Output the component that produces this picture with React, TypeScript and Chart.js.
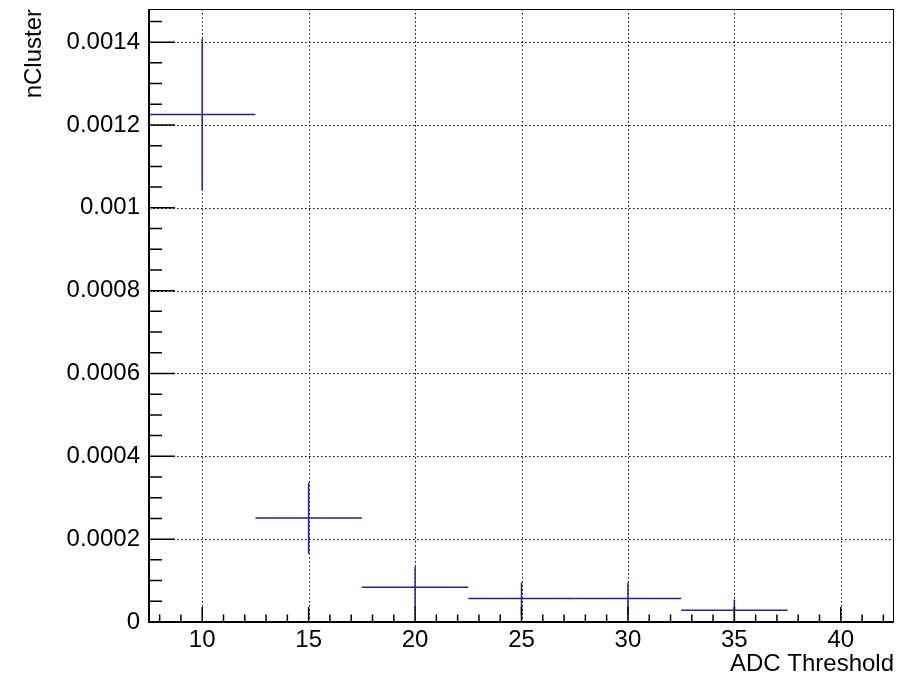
import React, { useEffect, useRef } from "react";
import { Chart, registerables } from "chart.js";

Chart.register(...registerables);

// ---- data ----
const adcThresholds = [10, 15, 20, 25, 30, 35];
const nClusterValues = [0.001225, 0.000251, 0.000084, 0.0000565, 0.0000565, 0.0000285];
const nClusterErrors = [0.000183, 0.000086, 0.00005, 0.000039, 0.000039, 0.000026];
const thresholdHalfWidths = [2.5, 2.5, 2.5, 2.5, 2.5, 2.5];

const xTickValues = [10, 15, 20, 25, 30, 35, 40];
const xTickLabels = ["10", "15", "20", "25", "30", "35", "40"];
const yTickValues = [0, 0.0002, 0.0004, 0.0006, 0.0008, 0.001, 0.0012, 0.0014];
const yTickLabels = ["0", "0.0002", "0.0004", "0.0006", "0.0008", "0.001", "0.0012", "0.0014"];

const X_MIN = 7.5;
const X_MAX = 42.5;
const Y_MIN = 0;
const Y_MAX = 0.00148;
const X_MINOR_STEP = 1;
const Y_MINOR_STEP = 0.00005;

const FONT_FAMILY = "'Liberation Sans', Arial, Helvetica, sans-serif";
const MARKER_COLOR = "rgb(34,34,150)";

const rootStylePlugin = {
  id: "rootStyle",
  beforeDatasetsDraw(chart: any) {
    const { ctx, chartArea: a, scales } = chart;
    const x = scales.x;
    const y = scales.y;
    ctx.save();
    ctx.strokeStyle = "#000";
    ctx.lineWidth = 1;
    ctx.setLineDash([1.5, 2.5]);
    for (const v of xTickValues) {
      const px = Math.round(x.getPixelForValue(v)) + 0.5;
      ctx.beginPath();
      ctx.moveTo(px, a.top);
      ctx.lineTo(px, a.bottom);
      ctx.stroke();
    }
    for (const v of yTickValues) {
      if (v === Y_MIN) continue;
      const py = Math.round(y.getPixelForValue(v)) + 0.5;
      ctx.beginPath();
      ctx.moveTo(a.left, py);
      ctx.lineTo(a.right, py);
      ctx.stroke();
    }
    ctx.restore();
  },
  afterDatasetsDraw(chart: any) {
    const { ctx, chartArea: a, scales } = chart;
    const x = scales.x;
    const y = scales.y;
    ctx.save();
    ctx.beginPath();
    ctx.rect(a.left, a.top, a.right - a.left, a.bottom - a.top);
    ctx.clip();
    ctx.strokeStyle = MARKER_COLOR;
    ctx.lineWidth = 1.5;
    adcThresholds.forEach((xv, i) => {
      const yv = nClusterValues[i];
      const px = x.getPixelForValue(xv);
      const py = y.getPixelForValue(yv);
      const x0 = x.getPixelForValue(xv - thresholdHalfWidths[i]);
      const x1 = x.getPixelForValue(xv + thresholdHalfWidths[i]);
      const y0 = y.getPixelForValue(yv - nClusterErrors[i]);
      const y1 = y.getPixelForValue(yv + nClusterErrors[i]);
      ctx.beginPath();
      ctx.moveTo(x0, py);
      ctx.lineTo(x1, py);
      ctx.moveTo(px, y0);
      ctx.lineTo(px, y1);
      ctx.stroke();
    });
    ctx.restore();
  },
  afterDraw(chart: any) {
    const { ctx, chartArea: a, scales } = chart;
    const x = scales.x;
    const y = scales.y;
    ctx.save();
    ctx.strokeStyle = "#000";
    ctx.setLineDash([]);
    // frame
    ctx.lineWidth = 1;
    ctx.strokeRect(a.left + 0.5, a.top + 0.5, a.right - a.left - 1, a.bottom - a.top - 1);
    ctx.lineWidth = 2;
    ctx.beginPath();
    ctx.moveTo(a.left, a.top);
    ctx.lineTo(a.left, a.bottom);
    ctx.lineTo(a.right, a.bottom);
    ctx.stroke();
    // x ticks (inward)
    ctx.lineWidth = 1.5;
    ctx.beginPath();
    for (let v = Math.ceil(X_MIN); v <= X_MAX; v += X_MINOR_STEP) {
      const major = xTickValues.includes(v);
      const px = x.getPixelForValue(v);
      ctx.moveTo(px, a.bottom);
      ctx.lineTo(px, a.bottom - (major ? 15 : 7.5));
    }
    // y ticks (inward)
    const nMinor = Math.floor((Y_MAX - Y_MIN) / Y_MINOR_STEP + 1e-9);
    for (let k = 1; k <= nMinor; k++) {
      const v = Y_MIN + k * Y_MINOR_STEP;
      const major = k % 4 === 0;
      const py = y.getPixelForValue(v);
      ctx.moveTo(a.left, py);
      ctx.lineTo(a.left + (major ? 26 : 13), py);
    }
    ctx.stroke();
    ctx.restore();
  },
};

export default function App() {
  const canvasRef = useRef<HTMLCanvasElement | null>(null);

  useEffect(() => {
    const canvas = canvasRef.current;
    if (!canvas) return;
    const chart = new Chart(canvas, {
      type: "scatter",
      data: {
        datasets: [
          {
            label: "nCluster",
            data: adcThresholds.map((t, i) => ({ x: t, y: nClusterValues[i] })),
            pointRadius: 0,
            pointHoverRadius: 0,
            showLine: false,
            borderColor: MARKER_COLOR,
            backgroundColor: MARKER_COLOR,
          },
        ],
      },
      options: {
        responsive: false,
        animation: false,
        events: [],
        layout: { padding: { left: 0, top: 9, right: 3, bottom: 0 } },
        plugins: {
          legend: { display: false },
          tooltip: { enabled: false },
          title: { display: false },
        },
        scales: {
          x: {
            type: "linear",
            min: X_MIN,
            max: X_MAX,
            afterBuildTicks: (scale: any) => {
              scale.ticks = xTickValues.map((v) => ({ value: v }));
            },
            afterFit: (scale: any) => {
              scale.height = 57;
              scale.paddingLeft = 0;
              scale.paddingRight = 0;
            },
            grid: { display: false, drawTicks: false },
            border: { display: false },
            ticks: {
              autoSkip: false,
              maxRotation: 0,
              padding: 4,
              color: "#000",
              font: { family: FONT_FAMILY, size: 24 },
              callback: (_v: any, i: number) => xTickLabels[i],
            },
            title: {
              display: true,
              text: "ADC Threshold",
              align: "end",
              color: "#000",
              font: { family: FONT_FAMILY, size: 24 },
              padding: { top: 0, bottom: 0 },
            },
          },
          y: {
            type: "linear",
            min: Y_MIN,
            max: Y_MAX,
            afterBuildTicks: (scale: any) => {
              scale.ticks = yTickValues.map((v) => ({ value: v }));
            },
            afterFit: (scale: any) => {
              scale.width = 149;
              scale.paddingTop = 0;
              scale.paddingBottom = 0;
            },
            grid: { display: false, drawTicks: false },
            border: { display: false },
            ticks: {
              autoSkip: false,
              padding: 9,
              color: "#000",
              font: { family: FONT_FAMILY, size: 24 },
              callback: (_v: any, i: number) => yTickLabels[i],
            },
            title: {
              display: true,
              text: "nCluster",
              align: "end",
              color: "#000",
              font: { family: FONT_FAMILY, size: 24 },
              padding: { top: 20, bottom: 0 },
            },
          },
        },
      },
      plugins: [rootStylePlugin],
    } as any);
    return () => chart.destroy();
  }, []);

  return (
    <div style={{ position: "absolute", left: 0, top: 0, width: 897, height: 679, background: "#fff" }}>
      <canvas ref={canvasRef} width={897} height={679} style={{ display: "block", width: 897, height: 679 }} />
    </div>
  );
}
